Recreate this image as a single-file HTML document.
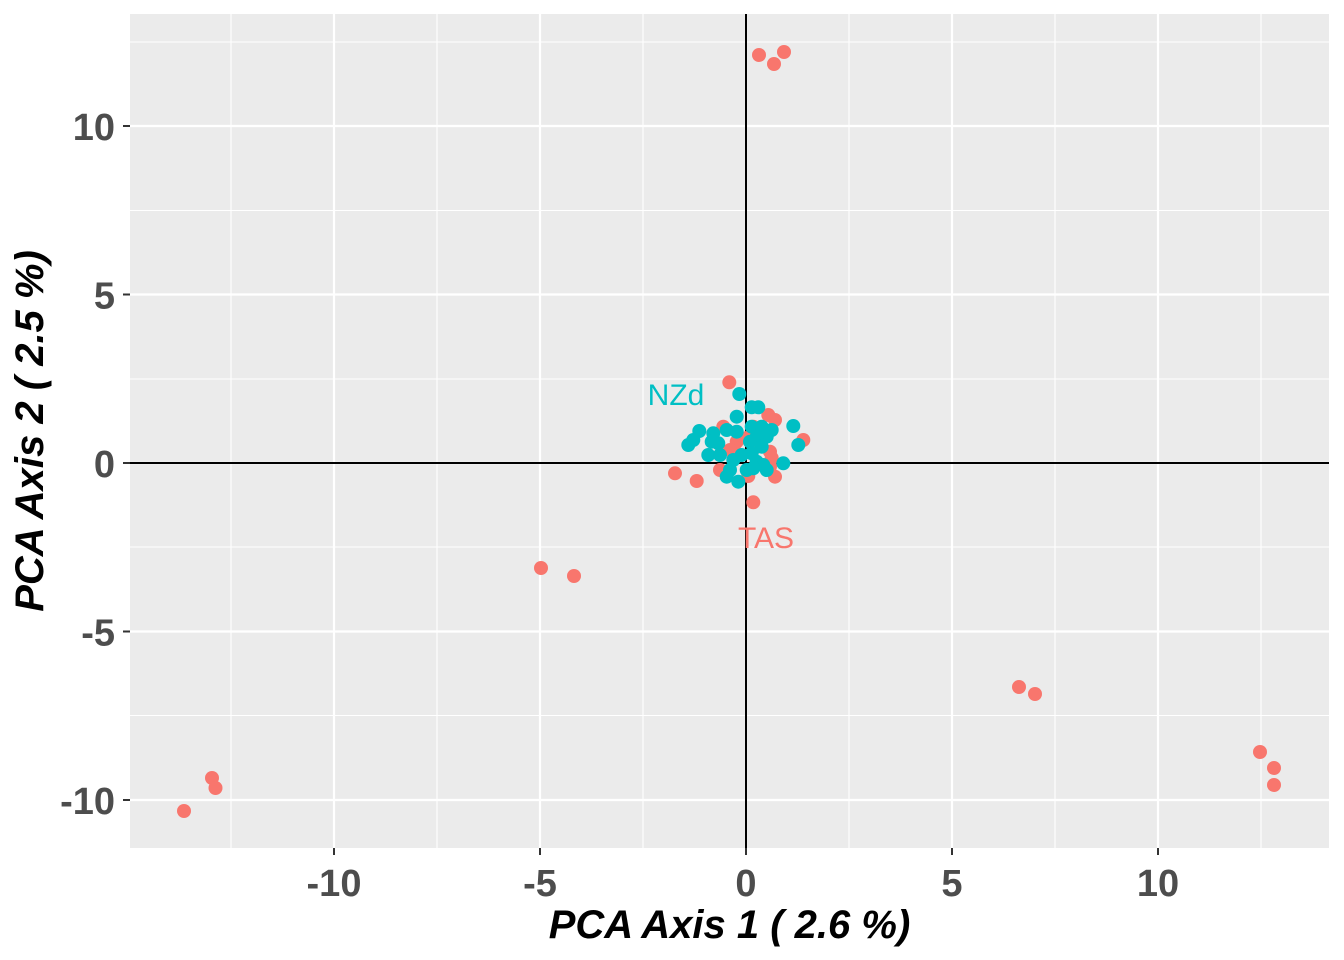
<!DOCTYPE html>
<html>
<head>
<meta charset="utf-8">
<style>
html,body{margin:0;padding:0;background:#ffffff;}
svg{display:block;}
text{font-family:"Liberation Sans",Arial,sans-serif;}
</style>
</head>
<body>
<svg width="1344" height="960" viewBox="0 0 1344 960" xmlns="http://www.w3.org/2000/svg">
<rect x="0" y="0" width="1344" height="960" fill="#ffffff"/>
<!-- panel -->
<rect x="130" y="14" width="1199" height="834" fill="#EBEBEB"/>
<!-- minor grid -->
<g stroke="#ffffff" stroke-width="1.1">
<line x1="231" y1="14" x2="231" y2="848"/>
<line x1="437" y1="14" x2="437" y2="848"/>
<line x1="643" y1="14" x2="643" y2="848"/>
<line x1="849" y1="14" x2="849" y2="848"/>
<line x1="1055" y1="14" x2="1055" y2="848"/>
<line x1="1261" y1="14" x2="1261" y2="848"/>
<line x1="130" y1="42" x2="1329" y2="42"/>
<line x1="130" y1="210.5" x2="1329" y2="210.5"/>
<line x1="130" y1="379" x2="1329" y2="379"/>
<line x1="130" y1="547" x2="1329" y2="547"/>
<line x1="130" y1="715.5" x2="1329" y2="715.5"/>
</g>
<!-- major grid -->
<g stroke="#ffffff" stroke-width="2.2">
<line x1="334" y1="14" x2="334" y2="848"/>
<line x1="540" y1="14" x2="540" y2="848"/>
<line x1="746" y1="14" x2="746" y2="848"/>
<line x1="952" y1="14" x2="952" y2="848"/>
<line x1="1158" y1="14" x2="1158" y2="848"/>
<line x1="130" y1="126" x2="1329" y2="126"/>
<line x1="130" y1="294.5" x2="1329" y2="294.5"/>
<line x1="130" y1="463" x2="1329" y2="463"/>
<line x1="130" y1="631.5" x2="1329" y2="631.5"/>
<line x1="130" y1="800" x2="1329" y2="800"/>
</g>
<!-- zero lines -->
<g stroke="#000000" stroke-width="2">
<line x1="746" y1="14" x2="746" y2="848"/>
<line x1="130" y1="463" x2="1329" y2="463"/>
</g>
<!-- red points -->
<g fill="#F8766D">
<circle cx="759" cy="55" r="7"/>
<circle cx="784" cy="52" r="7"/>
<circle cx="774" cy="64" r="7"/>
<circle cx="541" cy="568" r="7"/>
<circle cx="574" cy="576" r="7"/>
<circle cx="1019" cy="687" r="7"/>
<circle cx="1035" cy="694" r="7"/>
<circle cx="1260" cy="752" r="7"/>
<circle cx="1274" cy="768" r="7"/>
<circle cx="1274" cy="785" r="7"/>
<circle cx="212" cy="778" r="7"/>
<circle cx="215.5" cy="788" r="7"/>
<circle cx="184" cy="811" r="7"/>
<circle cx="729.3" cy="382.3" r="7"/>
<circle cx="675" cy="473.3" r="7"/>
<circle cx="696.7" cy="481" r="7"/>
<circle cx="753.3" cy="502.3" r="7"/>
<circle cx="768.3" cy="415" r="7"/>
<circle cx="775" cy="420" r="7"/>
<circle cx="803.3" cy="440" r="7"/>
<circle cx="723.3" cy="426.7" r="7"/>
<circle cx="753.3" cy="426.7" r="7"/>
<circle cx="736.7" cy="441.7" r="7"/>
<circle cx="735" cy="451.7" r="7"/>
<circle cx="770" cy="451.7" r="7"/>
<circle cx="771.7" cy="458" r="7"/>
<circle cx="720" cy="470" r="7"/>
<circle cx="748.3" cy="476" r="7"/>
<circle cx="775" cy="476.7" r="7"/>
<circle cx="770" cy="466.7" r="7"/>
<circle cx="746.7" cy="438" r="7"/>
<circle cx="756.7" cy="446.7" r="7"/>
<circle cx="730" cy="450" r="7"/>
</g>
<!-- cyan points -->
<g fill="#00BFC4">
<circle cx="739.3" cy="394" r="7"/>
<circle cx="751.7" cy="407.3" r="7"/>
<circle cx="758.3" cy="407.3" r="7"/>
<circle cx="736.7" cy="416.7" r="7"/>
<circle cx="793.3" cy="426" r="7"/>
<circle cx="798.3" cy="445" r="7"/>
<circle cx="699.3" cy="431" r="7"/>
<circle cx="688.3" cy="445" r="7"/>
<circle cx="693.3" cy="440" r="7"/>
<circle cx="713.3" cy="433.3" r="7"/>
<circle cx="711.7" cy="441.7" r="7"/>
<circle cx="708.3" cy="455" r="7"/>
<circle cx="720" cy="455" r="7"/>
<circle cx="718.3" cy="443.3" r="7"/>
<circle cx="726.7" cy="430" r="7"/>
<circle cx="736.7" cy="431.7" r="7"/>
<circle cx="751.7" cy="426.7" r="7"/>
<circle cx="761.7" cy="426.7" r="7"/>
<circle cx="771.7" cy="430" r="7"/>
<circle cx="766.7" cy="436.7" r="7"/>
<circle cx="756.7" cy="436.7" r="7"/>
<circle cx="750" cy="441.7" r="7"/>
<circle cx="761.7" cy="446.7" r="7"/>
<circle cx="751.7" cy="453.3" r="7"/>
<circle cx="741.7" cy="455" r="7"/>
<circle cx="733.3" cy="460" r="7"/>
<circle cx="756.7" cy="461.7" r="7"/>
<circle cx="763.3" cy="465" r="7"/>
<circle cx="783.3" cy="463.3" r="7"/>
<circle cx="730" cy="470" r="7"/>
<circle cx="738.3" cy="481.7" r="7"/>
<circle cx="753.3" cy="468.3" r="7"/>
<circle cx="766.7" cy="470" r="7"/>
<circle cx="726.7" cy="476.7" r="7"/>
<circle cx="746.7" cy="470" r="7"/>
</g>
<!-- group labels -->
<text x="676" y="405" font-size="30" fill="#00BFC4" text-anchor="middle">NZd</text>
<text x="766" y="548" font-size="30" fill="#F8766D" text-anchor="middle">TAS</text>
<!-- ticks -->
<g stroke="#333333" stroke-width="2">
<line x1="123" y1="126" x2="130" y2="126"/>
<line x1="123" y1="294.5" x2="130" y2="294.5"/>
<line x1="123" y1="463" x2="130" y2="463"/>
<line x1="123" y1="631.5" x2="130" y2="631.5"/>
<line x1="123" y1="800" x2="130" y2="800"/>
<line x1="334" y1="848" x2="334" y2="855"/>
<line x1="540" y1="848" x2="540" y2="855"/>
<line x1="746" y1="848" x2="746" y2="855"/>
<line x1="952" y1="848" x2="952" y2="855"/>
<line x1="1158" y1="848" x2="1158" y2="855"/>
</g>
<!-- y tick labels -->
<g font-size="38" font-weight="bold" fill="#4D4D4D" text-anchor="end">
<text x="115" y="140">10</text>
<text x="115" y="308.5">5</text>
<text x="115" y="477">0</text>
<text x="115" y="645.5">-5</text>
<text x="115" y="814">-10</text>
</g>
<!-- x tick labels -->
<g font-size="38" font-weight="bold" fill="#4D4D4D" text-anchor="middle">
<text x="334" y="896">-10</text>
<text x="540" y="896">-5</text>
<text x="746" y="896">0</text>
<text x="952" y="896">5</text>
<text x="1158" y="896">10</text>
</g>
<!-- axis titles -->
<text x="729.5" y="938" font-size="40" font-weight="bold" font-style="italic" fill="#000000" text-anchor="middle">PCA Axis 1 ( 2.6 %)</text>
<text transform="translate(43,431) rotate(-90)" x="0" y="0" font-size="40" font-weight="bold" font-style="italic" fill="#000000" text-anchor="middle">PCA Axis 2 ( 2.5 %)</text>
</svg>
</body>
</html>
